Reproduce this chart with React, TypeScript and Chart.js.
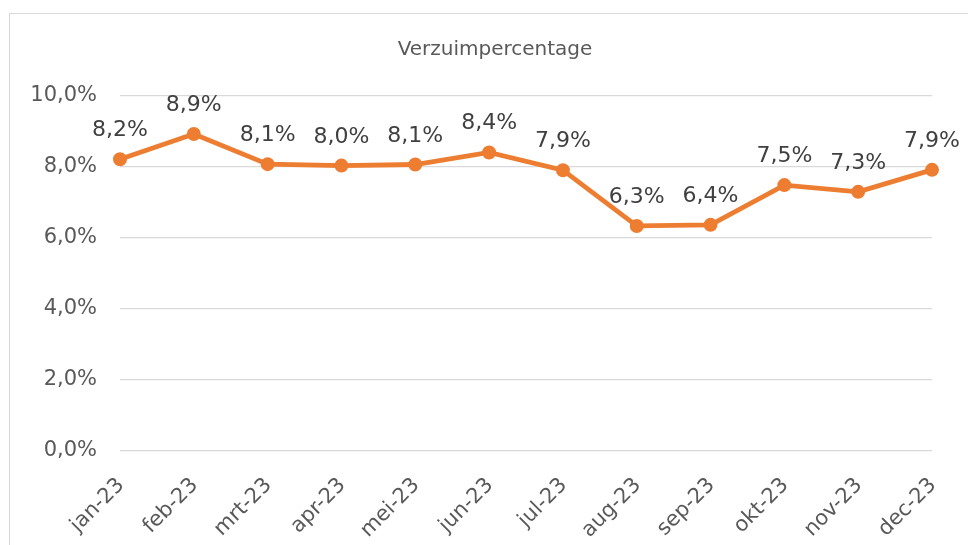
import React, { useEffect, useRef } from "react";
import { Chart, registerables } from "chart.js";

Chart.register(...registerables);

const caption = "Verloop van het verzuimpercentage bij de organisatie in 2023";
const chartTitle = "Verzuimpercentage";
const months = ["jan-23", "feb-23", "mrt-23", "apr-23", "mei-23", "jun-23", "jul-23", "aug-23", "sep-23", "okt-23", "nov-23", "dec-23"];
const verzuim = [8.22, 8.93, 8.08, 8.04, 8.07, 8.41, 7.91, 6.34, 6.37, 7.49, 7.3, 7.92];
const yMin = 0;
const yMax = 10;
const yStep = 2;

const FONT = "'DejaVu Sans', Verdana, sans-serif";
const ORANGE = "#ED7D31";

const fmt = (v: number) => v.toFixed(1).replace(".", ",") + "%";

const dataLabels = {
  id: "dataLabels",
  afterDatasetsDraw(chart: any) {
    const ctx = chart.ctx;
    const meta = chart.getDatasetMeta(0);
    const data = chart.data.datasets[0].data as number[];
    ctx.save();
    ctx.font = `22px ${FONT}`;
    ctx.fillStyle = "#404040";
    ctx.textAlign = "center";
    ctx.textBaseline = "alphabetic";
    meta.data.forEach((pt: any, i: number) => {
      ctx.fillText(fmt(data[i]), pt.x, pt.y - 23);
    });
    ctx.restore();
  },
};

export default function App() {
  const ref = useRef<HTMLCanvasElement | null>(null);

  useEffect(() => {
    if (!ref.current) return;
    const chart = new Chart(ref.current, {
      type: "line",
      data: {
        labels: months,
        datasets: [
          {
            label: chartTitle,
            data: verzuim,
            borderColor: ORANGE,
            backgroundColor: ORANGE,
            borderWidth: 4.8,
            pointRadius: 6,
            pointBorderWidth: 2,
            pointBackgroundColor: ORANGE,
            pointBorderColor: ORANGE,
            tension: 0,
            yAxisID: "y",
          },
        ],
      },
      options: {
        animation: false,
        responsive: false,
        maintainAspectRatio: false,
        layout: { padding: { left: 0, right: 0, top: 0, bottom: 0 } },
        plugins: {
          legend: { display: false },
          tooltip: { enabled: false },
          title: {
            display: true,
            text: chartTitle,
            color: "#595959",
            font: { family: FONT, size: 20, weight: "normal" },
            padding: { top: 38, bottom: 34 },
          },
        },
        scales: {
          x: {
            offset: false,
            grid: { display: false },
            border: { display: false },
            ticks: {
              color: "#595959",
              font: { family: FONT, size: 21 },
              minRotation: 45,
              maxRotation: 45,
              autoSkip: false,
              padding: 14,
              labelOffset: 1,
            },
            afterFit(scale: any) {
              scale.height = 94;
            },
          },
          y: {
            position: "left",
            min: yMin,
            max: yMax,
            grid: { color: "#d9d9d9", lineWidth: 1.3, drawTicks: false },
            border: { display: false },
            ticks: {
              stepSize: yStep,
              color: "#595959",
              font: { family: FONT, size: 21 },
              padding: 23,
              callback: (v: any) => fmt(Number(v)),
            },
            afterFit(scale: any) {
              scale.width = 120;
            },
          },
          yRight: {
            position: "right",
            display: true,
            min: yMin,
            max: yMax,
            grid: { display: false, drawOnChartArea: false },
            border: { display: false },
            ticks: { display: false },
            afterFit(scale: any) {
              scale.width = 58;
            },
          },
        },
      },
      plugins: [dataLabels],
    });
    return () => chart.destroy();
  }, []);

  return (
    <div style={{ position: "fixed", inset: 0, overflow: "hidden", background: "#fff" }}>
      <div
        style={{
          position: "absolute",
          top: -24,
          left: 12,
          fontFamily: FONT,
          fontSize: 21.5,
          lineHeight: "26px",
          color: "#222",
          whiteSpace: "nowrap",
        }}
      >
        {caption}
      </div>
      <div
        style={{
          position: "absolute",
          left: 9,
          top: 13,
          width: 1100,
          height: 700,
          border: "1.5px solid #d9d9d9",
        }}
      />
      <canvas ref={ref} width={990} height={545} style={{ position: "absolute", left: 0, top: 0 }} />
    </div>
  );
}
